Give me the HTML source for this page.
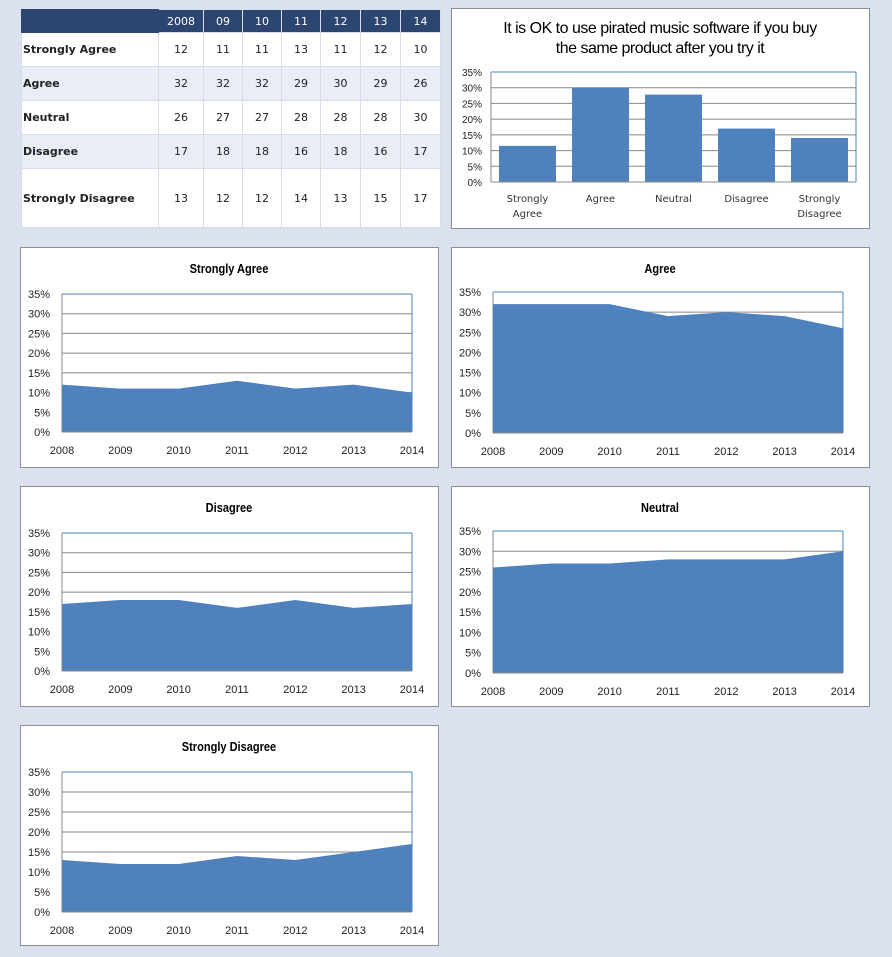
<!DOCTYPE html>
<html><head><meta charset="utf-8">
<style>
body{margin:0;width:892px;height:957px;background:#dbe1ef;position:relative;overflow:hidden;font-family:"Liberation Sans",sans-serif}
table{position:absolute;left:21px;top:9px;border-collapse:collapse;font-family:"DejaVu Sans","Liberation Sans",sans-serif;font-size:11px;color:#222}
td,th{border:1px solid #d6ddea;padding:0;text-align:center}
th{background:#2d4571;color:#fff;font-weight:normal;height:22px}
td.l{text-align:left;font-weight:bold;padding-left:1px}
tr.alt td{background:#e9edf6}
tr.w td{background:#fff}
.panel{position:absolute;background:#fff;border:1px solid #8a8f99;box-sizing:border-box}
svg{position:absolute;left:0;top:0}
</style></head><body>
<table>
<tr><th style="width:136px;border-color:#2d4571"></th><th style="width:44px">2008</th><th style="width:38px">09</th><th style="width:38px">10</th><th style="width:38px">11</th><th style="width:39px">12</th><th style="width:39px">13</th><th style="width:39px">14</th></tr>
<tr class="w" style="height:34px"><td class="l">Strongly Agree</td><td>12</td><td>11</td><td>11</td><td>13</td><td>11</td><td>12</td><td>10</td></tr>
<tr class="alt" style="height:34px"><td class="l">Agree</td><td>32</td><td>32</td><td>32</td><td>29</td><td>30</td><td>29</td><td>26</td></tr>
<tr class="w" style="height:34px"><td class="l">Neutral</td><td>26</td><td>27</td><td>27</td><td>28</td><td>28</td><td>28</td><td>30</td></tr>
<tr class="alt" style="height:34px"><td class="l">Disagree</td><td>17</td><td>18</td><td>18</td><td>16</td><td>18</td><td>16</td><td>17</td></tr>
<tr class="w" style="height:59px"><td class="l">Strongly Disagree</td><td>13</td><td>12</td><td>12</td><td>14</td><td>13</td><td>15</td><td>17</td></tr>
</table>
<svg id="main" width="892" height="957"></svg>
<script>
const barCategories=[["Strongly","Agree"],["Agree"],["Neutral"],["Disagree"],["Strongly","Disagree"]];
const barValues=[11.5,30,27.8,17,14];
const yTicks=["0%","5%","10%","15%","20%","25%","30%","35%"];
const years=["2008","2009","2010","2011","2012","2013","2014"];
const saValues=[12,11,11,13,11,12,10];
const agValues=[32,32,32,29,30,29,26];
const diValues=[17,18,18,16,18,16,17];
const neValues=[26,27,27,28,28,28,30];
const sdValues=[13,12,12,14,13,15,17];
const NS="http://www.w3.org/2000/svg";
const svg=document.getElementById('main');
function mk(tag,attrs,parent){const e=document.createElementNS(NS,tag);for(const k in attrs)e.setAttribute(k,attrs[k]);(parent||svg).appendChild(e);return e;}
function panel(x,y,w,h,name){const r=mk('rect',{x:x+.5,y:y+.5,width:w,height:h,fill:'#fff',stroke:'#8a8f99'});

}
function grid(px,py,pw,ph,lblX,fs){
  for(let i=0;i<yTicks.length;i++){const yy=py+ph-ph*i/7;
    const l=mk('line',{x1:px,x2:px+pw,y1:yy,y2:yy,stroke:i==7?'#4f81bd':'#888','stroke-width':1});
    
    
    const t=mk('text',{x:lblX,y:yy+4,'font-size':fs,'text-anchor':'end',fill:'#222'});t.textContent=yTicks[i];
    
    }
  mk('line',{x1:px,x2:px,y1:py,y2:py+ph,stroke:'#888'});
  mk('line',{x1:px+pw,x2:px+pw,y1:py,y2:py+ph,stroke:'#4f81bd'});
}
// bar chart
panel(451,8,418,220,'bar-chart-panel');
let t1=mk('text',{x:660,y:33,'font-size':16,'text-anchor':'middle','font-family':'Liberation Sans','letter-spacing':'-0.5'});t1.textContent='It is OK to use pirated music software if you buy';

let t2=mk('text',{x:660,y:53,'font-size':16,'text-anchor':'middle','letter-spacing':'-0.5'});t2.textContent='the same product after you try it';

(function(){const px=491,py=72,pw=365,ph=110;grid(px,py,pw,ph,482,10);
const cw=pw/barValues.length;
const ys=v=>py+ph-ph*v/35;
barValues.forEach((v,i)=>{const b=mk('rect',{x:px+cw*i+8,y:ys(v),width:cw-16,height:ph-(ys(v)-py),fill:'#4f81bd'});

barCategories[i].forEach((s,j)=>{const t=mk('text',{x:px+cw*(i+.5),y:202+j*15,'font-size':10,'text-anchor':'middle',fill:'#333','font-family':'DejaVu Sans'});t.textContent=s;
});});
mk('line',{x1:px,x2:px+pw,y1:py+ph,y2:py+ph,stroke:'#888'});})();
function area(x,y,title,vals,px,py,pw,ph,name){
  panel(x,y,418,220,name+'-panel');
  const t=mk('text',{x:x+209,y:y+26,'font-size':13,'font-weight':'bold','text-anchor':'middle',transform:`translate(${x+209},0) scale(0.85,1) translate(${-(x+209)},0)`});t.textContent=title;
  
  const xs=i=>px+pw*i/(years.length-1), ys=v=>py+ph-ph*v/35;
  let d=`M${xs(0)},${py+ph}`;vals.forEach((v,i)=>d+=` L${xs(i)},${ys(v)}`);d+=` L${xs(vals.length-1)},${py+ph}Z`;
  grid(px,py,pw,ph,px-12,11);
  const a=mk('path',{d:d,fill:'#4f81bd'});
  
  mk('line',{x1:px,x2:px+pw,y1:py+ph,y2:py+ph,stroke:'#888'});
  years.forEach((s,i)=>{const l=mk('text',{x:xs(i),y:py+ph+22,'font-size':11,'text-anchor':'middle',fill:'#222'});l.textContent=s;
  });
}
area(20,247,'Strongly Agree',saValues,62,294,350,138,'strongly-agree-chart');
area(451,247,'Agree',agValues,493,292,350,141,'agree-chart');
area(20,486,'Disagree',diValues,62,533,350,138,'disagree-chart');
area(451,486,'Neutral',neValues,493,531,350,142,'neutral-chart');
area(20,725,'Strongly Disagree',sdValues,62,772,350,140,'strongly-disagree-chart');
</script>
</body></html>
